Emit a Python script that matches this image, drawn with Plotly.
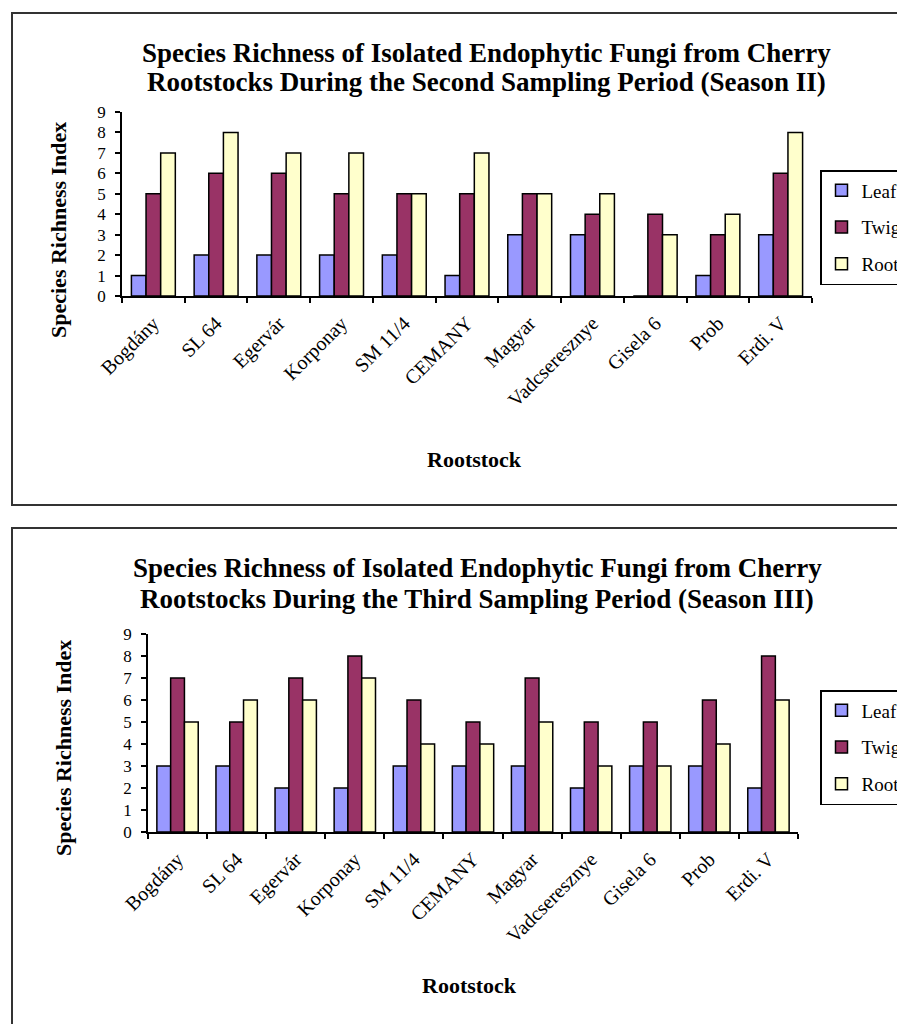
import plotly.graph_objects as go

categories = ["Bogdány", "SL 64", "Egervár", "Korponay", "SM 11/4", "CEMANY",
              "Magyar", "Vadcseresznye", "Gisela 6", "Prob", "Erdi. V"]

s2_leaf = [1, 2, 2, 2, 2, 1, 3, 3, 0, 1, 3]
s2_twig = [5, 6, 6, 5, 5, 5, 5, 4, 4, 3, 6]
s2_root = [7, 8, 7, 7, 5, 7, 5, 5, 3, 4, 8]

s3_leaf = [3, 3, 2, 2, 3, 3, 3, 2, 3, 3, 2]
s3_twig = [7, 5, 7, 8, 6, 5, 7, 5, 5, 6, 8]
s3_root = [5, 6, 6, 7, 4, 4, 5, 3, 3, 4, 6]

series_names = ["Leaf", "Twig", "Root"]
colors = ["#9999FF", "#993366", "#FFFFCC"]

title2 = ["Species Richness of Isolated Endophytic Fungi from Cherry",
          "Rootstocks During the Second Sampling Period (Season II)"]
title3 = ["Species Richness of Isolated Endophytic Fungi from Cherry",
          "Rootstocks During the Third Sampling Period (Season III)"]
ytitle = "Species Richness Index"
xtitle = "Rootstock"

W, H = 905, 1024
OFF = 8  # page body margin offset
FONT = "Liberation Serif, Times New Roman, serif"

def px(x):
    return (x - OFF) / W

def py(y):
    return 1 - (y - OFF) / H

fig = go.Figure()

for vals, name, col in zip([s2_leaf, s2_twig, s2_root], series_names, colors):
    fig.add_trace(go.Bar(x=categories, y=vals, name=name, marker_color=col,
                         marker_line_color="black", marker_line_width=1.5,
                         xaxis="x", yaxis="y", legend="legend", legendgroup=name + "2"))
for vals, name, col in zip([s3_leaf, s3_twig, s3_root], series_names, colors):
    fig.add_trace(go.Bar(x=categories, y=vals, name=name, marker_color=col,
                         marker_line_color="black", marker_line_width=1.5,
                         xaxis="x2", yaxis="y2", legend="legend2", legendgroup=name + "3"))

xcommon = dict(type="category", showline=True, linecolor="black", linewidth=1.5,
               ticks="outside", ticklen=5, tickcolor="black", tickwidth=1.5,
               tickson="boundaries", tickangle=-45, showgrid=False, automargin=False,
               ticklabelstandoff=6,
               tickfont=dict(family=FONT, size=20, color="black"), zeroline=False)
ycommon = dict(range=[0, 9], dtick=1, showline=True, linecolor="black", linewidth=1.5,
               ticks="outside", ticklen=5, tickcolor="black", tickwidth=1.5,
               showgrid=False, zeroline=False, automargin=False, ticklabelstandoff=6,
               tickfont=dict(family=FONT, size=17, color="black"))

legcommon = dict(bordercolor="black", borderwidth=1.5, bgcolor="white",
                 font=dict(family=FONT, size=19, color="black"), itemwidth=30,
                 traceorder="grouped", tracegroupgap=9, xanchor="left", yanchor="top")

fig.update_layout(
    width=W, height=H,
    margin=dict(l=0, r=0, t=0, b=0, autoexpand=False),
    paper_bgcolor="white", plot_bgcolor="white",
    barmode="group", bargap=0.3, bargroupgap=0,
    xaxis=dict(domain=[px(122), px(812)], anchor="y", **xcommon),
    yaxis=dict(domain=[py(296), py(112)], anchor="x", **ycommon),
    xaxis2=dict(domain=[px(148), px(798)], anchor="y2", **xcommon),
    yaxis2=dict(domain=[py(832), py(634)], anchor="x2", **ycommon),
    legend=dict(x=px(820), y=py(170), **legcommon),
    legend2=dict(x=px(820), y=py(690), **legcommon),
    showlegend=True,
)

shapes = [
    dict(type="rect", xref="paper", yref="paper", x0=px(12), x1=1.05, y0=py(505), y1=py(13),
         line=dict(color="#333333", width=2)),
    dict(type="rect", xref="paper", yref="paper", x0=px(12), x1=1.05, y0=-0.05, y1=py(528),
         line=dict(color="#333333", width=2)),
]
fig.update_layout(shapes=shapes)

ann = []
def add_ann(text, x, y, size, angle=0):
    ann.append(dict(text=text, x=px(x), y=py(y), xref="paper", yref="paper",
                    showarrow=False, textangle=angle, xanchor="center", yanchor="middle",
                    font=dict(family=FONT, size=size, color="black")))

add_ann("<b>" + title2[0] + "</b>", 487, 53, 27)
add_ann("<b>" + title2[1] + "</b>", 487, 82, 27)
add_ann("<b>" + title3[0] + "</b>", 477, 568, 27)
add_ann("<b>" + title3[1] + "</b>", 477, 599, 27)
add_ann("<b>" + ytitle + "</b>", 58, 230, 22, -90)
add_ann("<b>" + ytitle + "</b>", 63, 748, 22, -90)
add_ann("<b>" + xtitle + "</b>", 475, 459, 22)
add_ann("<b>" + xtitle + "</b>", 470, 985, 22)
fig.update_layout(annotations=ann)

fig.write_html("out.html")
